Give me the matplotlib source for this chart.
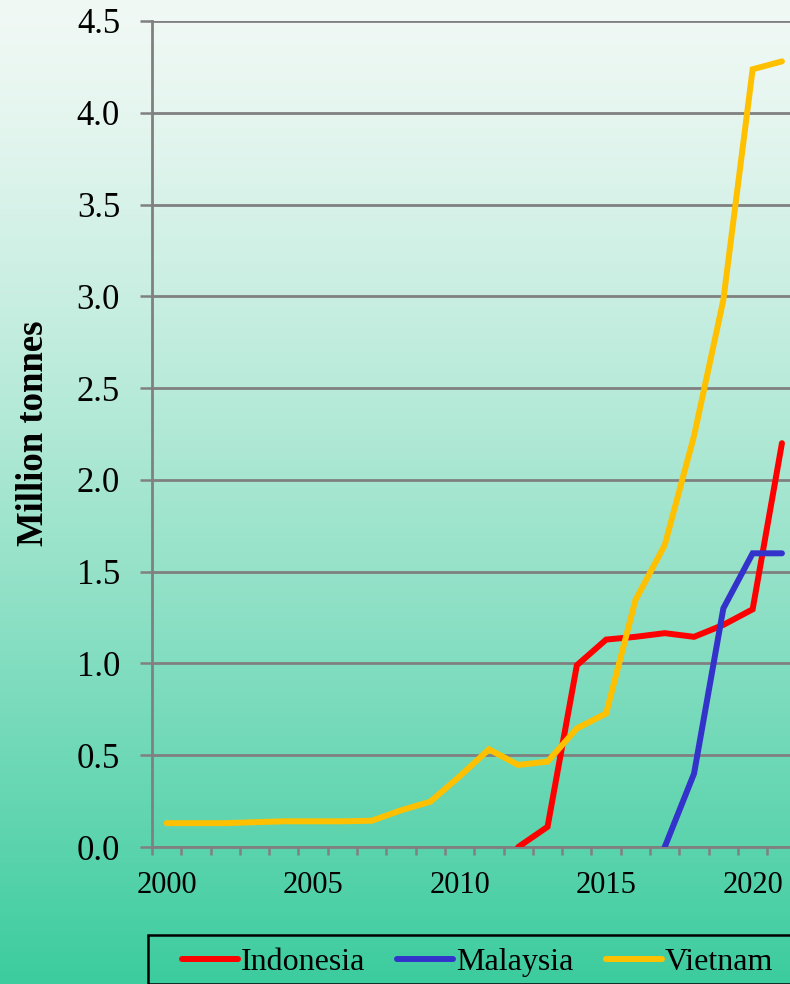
import numpy as np
import matplotlib
matplotlib.use("Agg")
import matplotlib.pyplot as plt
from matplotlib.patches import Rectangle
from matplotlib.lines import Line2D

plt.rcParams['font.family'] = ['Liberation Serif', 'DejaVu Serif']

years = list(range(2000, 2022))
nan = np.nan
indonesia = [nan] * 12 + [0.0, 0.11, 0.99, 1.13, 1.145, 1.165, 1.145, 1.21, 1.295, 2.20]
malaysia = [nan] * 17 + [0.0, 0.40, 1.30, 1.60, 1.60]
vietnam = [0.13, 0.13, 0.13, 0.135, 0.14, 0.14, 0.14, 0.143, 0.20, 0.247,
           0.385, 0.532, 0.447, 0.465, 0.646, 0.728, 1.345, 1.645, 2.24, 2.98,
           4.237, 4.28]

series_names = ['Indonesia', 'Malaysia', 'Vietnam']
series_colors = ['#FF0000', '#3333CC', '#FFC000']
y_ticks = [0.0, 0.5, 1.0, 1.5, 2.0, 2.5, 3.0, 3.5, 4.0, 4.5]
x_label_years = [2000, 2005, 2010, 2015, 2020]

W, H = 790, 984
fig = plt.figure(figsize=(W / 100, H / 100), dpi=100)

# vertical gradient background
bg = fig.add_axes([0, 0, 1, 1], zorder=0)
t = np.linspace(0, 1, 512) ** 1.25
top = np.array([0.945, 0.975, 0.960])
bot = np.array([0.235, 0.800, 0.620])
grad = top[None, :] * (1 - t[:, None]) + bot[None, :] * t[:, None]
bg.imshow(grad[:, None, :], aspect='auto', extent=[0, 1, 0, 1])
bg.set_axis_off()

grey = '#808080'
ax = fig.add_axes([152 / W, (H - 847) / H, 644.6 / W, 826 / H], zorder=1)
ax.patch.set_alpha(0)

for vals, c in zip([indonesia, malaysia, vietnam], series_colors):
    ax.plot(years, vals, color=c, lw=4.3, solid_capstyle='round',
            solid_joinstyle='miter', zorder=3)

ax.set_xlim(1999.5, 2021.5)
ax.set_ylim(0, 4.5)
ax.set_yticks(y_ticks)
ax.set_yticklabels([f'{v:.1f}' for v in y_ticks])
ax.set_xticks(x_label_years)
ax.set_xticks(np.arange(1999.5, 2022, 1), minor=True)
ax.tick_params(axis='x', which='major', length=0, pad=17, labelsize=22)
ax.tick_params(axis='x', which='minor', length=6, width=1.8, color=grey,
               direction='out')
ax.tick_params(axis='y', length=9, width=1.8, color=grey, pad=14, labelsize=25)
ax.grid(axis='y', color=grey, lw=2.0, zorder=1)
ax.set_axisbelow(True)
for s in ['top', 'right']:
    ax.spines[s].set_visible(False)
for s in ['left', 'bottom']:
    ax.spines[s].set_color(grey)
    ax.spines[s].set_linewidth(2.0)

fig.text(34 / W, 1 - 433 / H, 'Million tonnes', rotation=90, ha='center',
         va='center', fontsize=26.5, fontweight='bold')

# legend box running off the right edge
fig.patches.append(Rectangle((148 / W, 0), 700 / W, (984 - 935) / H,
                             transform=fig.transFigure, fill=False,
                             edgecolor='black', lw=1.8, zorder=5))
handles = [Line2D([], [], color=c, lw=4.3, solid_capstyle='round')
           for c in series_colors]
fig.legend(handles, series_names, loc='center left',
           bbox_to_anchor=(182 / W, 1 - 962 / H), frameon=False, ncol=3,
           fontsize=23, handlelength=1.75, handletextpad=0.1,
           columnspacing=1.0, borderpad=0, borderaxespad=0)

fig.savefig('out.png', dpi=100)
